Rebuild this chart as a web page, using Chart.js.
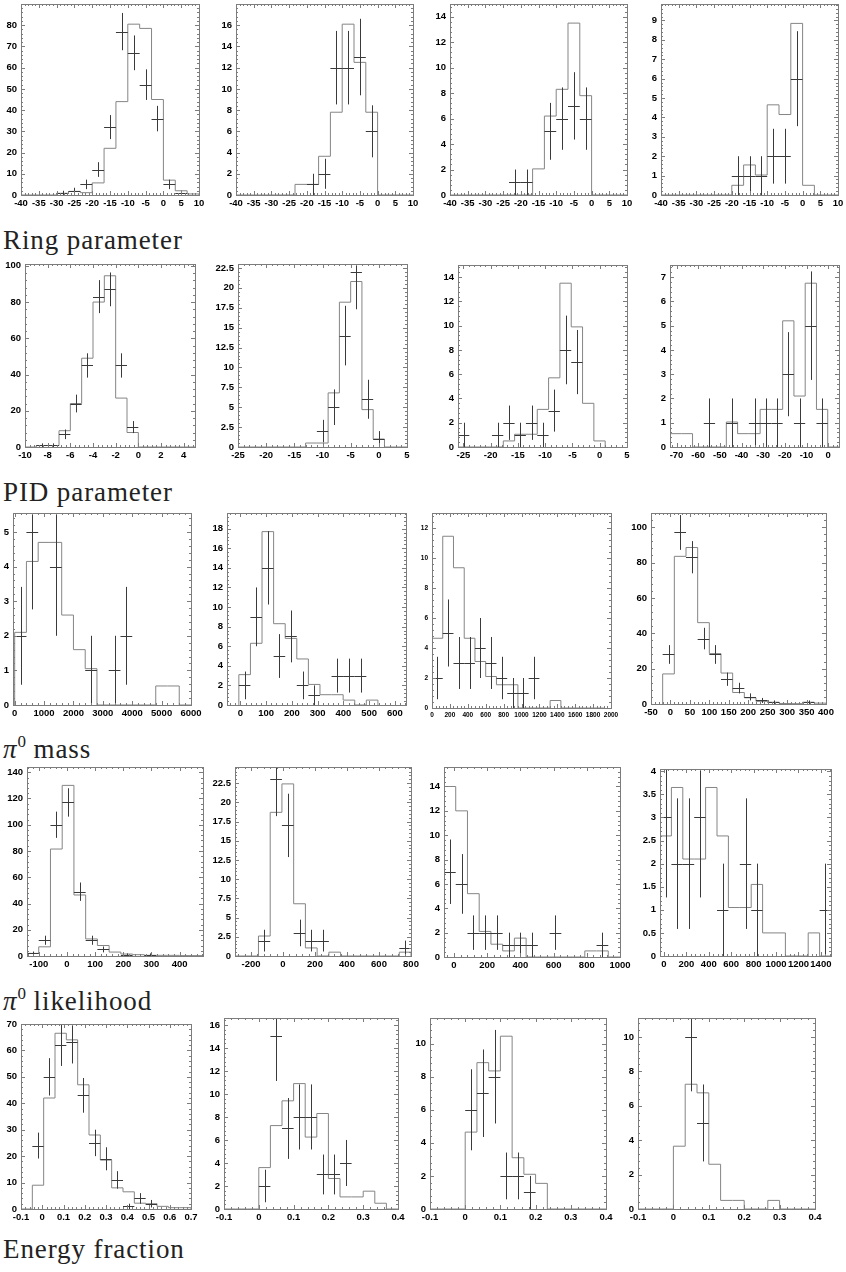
<!DOCTYPE html>
<html>
<head>
<meta charset="utf-8">
<script src="https://cdn.jsdelivr.net/npm/chart.js@4.4.1/dist/chart.umd.min.js"></script>
<style>
html,body{margin:0;padding:0;background:#fff;}
#page{position:relative;width:846px;height:1272px;overflow:hidden;background:#fff;}
.cap{position:absolute;left:3px;font-family:"Liberation Serif","DejaVu Serif",serif;font-size:27px;letter-spacing:0.9px;color:#222;white-space:nowrap;line-height:27px;}
.cap .sp{font-size:17px;position:relative;top:-11px;letter-spacing:0;}
canvas{position:absolute;}
</style>
</head>
<body>
<div id="page">
  <div class="cap" style="top:227px">Ring parameter</div>
  <div class="cap" style="top:479px">PID parameter</div>
  <div class="cap" style="top:736px"><i>π</i><span class="sp">0</span> mass</div>
  <div class="cap" style="top:988px"><i>π</i><span class="sp">0</span> likelihood</div>
  <div class="cap" style="top:1236px">Energy fraction</div>
</div>
<script>
// ---------------- data ----------------
// Row 1
const r1Xticks = [-40,-35,-30,-25,-20,-15,-10,-5,0,5,10];
const r1Bins = [-40, 10/3];
const r1c1Yticks = [0,10,20,30,40,50,60,70,80];
const r1c1Mc   = [0,0,0,0.8,1.7,1.1,5.7,22,44,80.5,78.5,45,7,2,0.5];
const r1c1Data = [null,null,null,1,2,5,12,32,77,67,52,36,5,1,null];
const r1c2Yticks = [0,2,4,6,8,10,12,14,16];
const r1c2Mc   = [0,0,0,0,0,1,1,3.65,7.8,16.1,12.5,7.8,0,0,0];
const r1c2Data = [null,null,null,null,null,null,1,2,12,12,13,6,null,null,null];
const r1c3Yticks = [0,2,4,6,8,10,12,14];
const r1c3Mc   = [0,0,0,0,0,0,0,2.05,6.2,8.3,13.5,7.8,0,0,0];
const r1c3Data = [null,null,null,null,null,1,1,null,5,6,7,6,null,null,null];
const r1c4Yticks = [0,1,2,3,4,5,6,7,8,9];
const r1c4Mc   = [0,0,0,0,0,0,0.5,1.55,1.03,4.65,4.15,8.85,0.5,0,0];
const r1c4Data = [null,null,null,null,null,null,1,1,1,2,2,6,null,null,null];

// Row 2
const r2c1Xticks = [-10,-8,-6,-4,-2,0,2,4];
const r2c1Bins = [-10, 1];
const r2c1Yticks = [0,20,40,60,80,100];
const r2c1Mc   = [0,0.8,0.8,9,24,49,80,94.5,27,8,0,0,0,0,0];
const r2c1Data = [null,1,1,7,24,45,83,87,45,11,null,null,null,null,null];
const r2c2Xticks = [-25,-20,-15,-10,-5,0,5];
const r2c2Bins = [-25, 2];
const r2c2Yticks = [0,2.5,5,7.5,10,12.5,15,17.5,20,22.5];
const r2c2Mc   = [0,0,0,0,0,0,0.5,0.5,6.8,18.2,20.8,4.7,1,0,0];
const r2c2Data = [null,null,null,null,null,null,null,2,5,14,22,6,1,null,null];
const r2c3Xticks = [-25,-20,-15,-10,-5,0,5];
const r2c3Bins = [-26, 27/13];
const r2c3Yticks = [0,2,4,6,8,10,12,14];
const r2c3Mc   = [0,0,0,0,0.5,1.05,1.05,3.1,5.7,13.5,9.9,3.6,0.5];
const r2c3Data = [1,null,null,1,2,1,2,1,3,8,7,null,null];
const r2c4Xticks = [-70,-60,-50,-40,-30,-20,-10,0];
const r2c4Bins = [-73, 5.2];
const r2c4Yticks = [0,1,2,3,4,5,6,7];
const r2c4Mc   = [0.55,0.55,0,0,0,1.03,0.55,0.55,1.55,1.55,5.2,2.1,6.75,1.55,0];
const r2c4Data = [null,null,null,1,null,1,null,1,1,1,3,1,5,1,null];

// Row 3
const r3c1Xticks = [0,1000,2000,3000,4000,5000,6000];
const r3c1Bins = [0, 400];
const r3c1Yticks = [0,1,2,3,4,5];
const r3c1Mc   = [2.1,4.15,4.7,4.7,2.6,1.6,1.05,0,0,0,0,0,0.55,0.55,0];
const r3c1Data = [2,5,null,4,null,null,1,null,1,2,null,null,null,null,null];
const r3c2Xticks = [0,100,200,300,400,500,600];
const r3c2Bins = [-6, 45];
const r3c2Yticks = [0,2,4,6,8,10,12,14,16,18];
const r3c2Mc   = [3.1,6.3,17.7,8.3,6.8,4.7,2.1,1.05,1.05,0.5,0,0.5];
const r3c2Data = [2,9,14,5,7,2,1,null,3,3,3,null];
const r3c3Xticks = [0,200,400,600,800,1000,1200,1400,1600,1800,2000];
const r3c3Bins = [0, 120];
const r3c3Yticks = [0,2,4,6,8,10,12];
const r3c3Mc   = [4.65,11.45,9.35,4.65,3.1,2.1,1.55,1.55,0,0,0,0.5,0,0,0,0];
const r3c3Data = [2,5,3,3,4,3,2,1,1,2,null,null,null,null,null,null];
const r3c4Xticks = [-50,0,50,100,150,200,250,300,350,400];
const r3c4Bins = [-20, 30];
const r3c4Yticks = [0,20,40,60,80,100];
const r3c4Mc   = [17,83.5,88.5,46,28.5,17.5,6.5,3.5,1.5,1,0.3,0.2,1,0.5];
const r3c4Data = [28,97,83,37,28,14,9,4,2,1,null,null,1,null];

// Row 4
const r4c1Xticks = [-100,0,100,200,300,400];
const r4c1Bins = [-142, 625/15];
const r4c1Yticks = [0,20,40,60,80,100,120,140];
const r4c1Mc   = [2,7,81.5,130,46.5,13,8,3,1.5,1,0.5,0.5,0.5,0.3,0.3];
const r4c1Data = [2,12,100,117,49,12,5,null,1,null,1,null,null,null,null];
const r4c2Xticks = [-200,0,200,400,600,800];
const r4c2Bins = [-300, 1100/15];
const r4c2Yticks = [0,2.5,5,7.5,10,12.5,15,17.5,20,22.5];
const r4c2Mc   = [0,0,2.6,18.7,22.4,6.8,1.05,0,0.5,0,0,0,0,0,0.5];
const r4c2Data = [null,null,2,23,17,3,2,2,null,null,null,null,null,null,1];
const r4c3Xticks = [0,200,400,600,800,1000];
const r4c3Bins = [-60, 1060/15];
const r4c3Yticks = [0,2,4,6,8,10,12,14];
const r4c3Mc   = [14,12,5.2,2.1,1.05,0.5,1.55,0,0,0,0,0,0.5,0.5,0];
const r4c3Data = [7,6,2,2,2,1,1,1,null,2,null,null,null,1,null];
const r4c4Xticks = [0,200,400,600,800,1000,1200,1400];
const r4c4Bins = [-35, 1525/15];
const r4c4Yticks = [0,0.5,1,1.5,2,2.5,3,3.5,4];
const r4c4Mc   = [2.6,3.65,2.1,2.1,3.65,2.6,1.05,1.05,1.55,0.5,0.5,0,0,0.5,0];
const r4c4Data = [3,2,2,3,null,1,null,2,1,null,null,null,null,null,1];

// Row 5
const r5c1Xticks = [-0.1,0,0.1,0.2,0.3,0.4,0.5,0.6,0.7];
const r5c1Bins = [-0.1, 0.8/15];
const r5c1Yticks = [0,10,20,30,40,50,60,70];
const r5c1Mc   = [0,9,42,66.5,64,47,28,18.5,8,6.5,2.2,2,1,0.5,0.5];
const r5c1Data = [null,24,50,62,63,43,25,19,11,1,4,2,null,null,null];
const r5Xticks = [-0.1,0,0.1,0.2,0.3,0.4];
const r5Bins = [-0.1, 1/30];
const r5c2Yticks = [0,2,4,6,8,10,12,14,16];
const r5c2Mc   = [0,0,0,3.6,7.25,9.4,10.9,6.25,8.3,2.65,1.05,1.05,1.55,0.5,0];
const r5c2Data = [null,null,null,2,15,7,8,8,3,3,4,null,null,null,null];
const r5c3Yticks = [0,2,4,6,8,10];
const r5c3Mc   = [0,0,0,4.65,8.85,8.35,10.45,3.1,2.1,1.55,0,0,0,0,0];
const r5c3Data = [null,null,null,6,7,8,2,2,1,null,null,null,null,null,null];
const r5c4Yticks = [0,2,4,6,8,10];
const r5c4Mc   = [0,0,0,3.65,7.25,6.75,2.6,0.5,0.5,0,0,0.5,0,0,0];
const r5c4Data = [null,null,null,null,10,5,null,null,null,null,null,null,null,null,null];

// ---------------- layout (frame = left, top, right, bottom in page px) ----------------
const panels = [
  {frame:[21,4,199,195],   x:[-40,10],  y:[0,90],   xt:r1Xticks, yt:r1c1Yticks, bins:r1Bins, mc:r1c1Mc, data:r1c1Data},
  {frame:[236,4,413,195],  x:[-40,10],  y:[0,18],   xt:r1Xticks, yt:r1c2Yticks, bins:r1Bins, mc:r1c2Mc, data:r1c2Data},
  {frame:[450,4,627,195],  x:[-40,10],  y:[0,15],   xt:r1Xticks, yt:r1c3Yticks, bins:r1Bins, mc:r1c3Mc, data:r1c3Data},
  {frame:[661,4,838,195],  x:[-40,10],  y:[0,9.85], xt:r1Xticks, yt:r1c4Yticks, bins:r1Bins, mc:r1c4Mc, data:r1c4Data},

  {frame:[25,264,195,447], x:[-10,5],   y:[0,101],  xt:r2c1Xticks, yt:r2c1Yticks, bins:r2c1Bins, mc:r2c1Mc, data:r2c1Data},
  {frame:[238,264,407,447],x:[-25,5],   y:[0,23],   xt:r2c2Xticks, yt:r2c2Yticks, bins:r2c2Bins, mc:r2c2Mc, data:r2c2Data},
  {frame:[458,265,627,447],x:[-26,5],   y:[0,15],   xt:r2c3Xticks, yt:r2c3Yticks, bins:r2c3Bins, mc:r2c3Mc, data:r2c3Data},
  {frame:[670,265,839,447],x:[-73,5],   y:[0,7.5],  xt:r2c4Xticks, yt:r2c4Yticks, bins:r2c4Bins, mc:r2c4Mc, data:r2c4Data},

  {frame:[13,513,191,705], x:[-57,6000],y:[0,5.55], xt:r3c1Xticks, yt:r3c1Yticks, bins:r3c1Bins, mc:r3c1Mc, data:r3c1Data},
  {frame:[227,513,406,705],x:[-52,643], y:[0,19.6], xt:r3c2Xticks, yt:r3c2Yticks, bins:r3c2Bins, mc:r3c2Mc, data:r3c2Data},
  {frame:[432,513,611,708],x:[0,2000],  y:[0,13],   xt:r3c3Xticks, yt:r3c3Yticks, bins:r3c3Bins, mc:r3c3Mc, data:r3c3Data, small:true},
  {frame:[651,513,826,704],x:[-50,400], y:[0,108],  xt:r3c4Xticks, yt:r3c4Yticks, bins:r3c4Bins, mc:r3c4Mc, data:r3c4Data},

  {frame:[27,767,203,956], x:[-142,483],y:[0,144],  xt:r4c1Xticks, yt:r4c1Yticks, bins:r4c1Bins, mc:r4c1Mc, data:r4c1Data},
  {frame:[235,767,411,956],x:[-300,800],y:[0,24.6], xt:r4c2Xticks, yt:r4c2Yticks, bins:r4c2Bins, mc:r4c2Mc, data:r4c2Data},
  {frame:[444,767,620,957],x:[-60,1000],y:[0,15.6], xt:r4c3Xticks, yt:r4c3Yticks, bins:r4c3Bins, mc:r4c3Mc, data:r4c3Data},
  {frame:[660,769,831,956],x:[-35,1490],y:[0,4.05], xt:r4c4Xticks, yt:r4c4Yticks, bins:r4c4Bins, mc:r4c4Mc, data:r4c4Data},

  {frame:[21,1024,191,1209], x:[-0.1,0.7], y:[0,70],    xt:r5c1Xticks, yt:r5c1Yticks, bins:r5c1Bins, mc:r5c1Mc, data:r5c1Data},
  {frame:[224,1018,398,1209],x:[-0.1,0.4], y:[0,16.6],  xt:r5Xticks,   yt:r5c2Yticks, bins:r5Bins,   mc:r5c2Mc, data:r5c2Data},
  {frame:[430,1018,606,1209],x:[-0.1,0.4], y:[0,11.55], xt:r5Xticks,   yt:r5c3Yticks, bins:r5Bins,   mc:r5c3Mc, data:r5c3Data},
  {frame:[638,1018,815,1209],x:[-0.1,0.4], y:[0,11.1],  xt:r5Xticks,   yt:r5c4Yticks, bins:r5Bins,   mc:r5c4Mc, data:r5c4Data}
];

// ---------------- drawing ----------------
const FRAME_COLOR = '#7c7c7c';
const MC_COLOR = '#858585';
const DATA_COLOR = '#3a3a3a';
const fmt = v => String(Math.round(v * 1e6) / 1e6);

function histPoints(lo, w, vals) {
  const pts = [{x: lo, y: 0}];
  vals.forEach((v, i) => pts.push({x: lo + i * w, y: v}));
  pts.push({x: lo + vals.length * w, y: 0});
  return pts;
}
function dataPoints(lo, w, vals) {
  const pts = [];
  vals.forEach((v, i) => { if (v !== null) pts.push({x: lo + (i + 0.5) * w, y: v}); });
  return pts;
}
function tickSet(major, min, max) {
  const d = (major[1] - major[0]) / 5, out = [];
  for (let k = 0; major[0] - k * d >= min - 1e-9; k++) out.push({v: major[0] - k * d, major: k % 5 === 0});
  for (let k = 1; major[0] + k * d <= max + 1e-9; k++) out.push({v: major[0] + k * d, major: k % 5 === 0});
  return out;
}

const histPlugin = {
  id: 'histPlugin',
  afterDatasetsDraw(chart) {
    const {ctx, chartArea: a, scales: {x, y}} = chart;
    const p = chart.options.plugins.histPlugin.panel;
    const halfW = p.bins[1] / 2;
    ctx.save();
    ctx.beginPath();
    ctx.rect(a.left, a.top, a.right - a.left + 1, a.bottom - a.top + 1);
    ctx.clip();
    ctx.strokeStyle = DATA_COLOR;
    ctx.lineWidth = 1;
    ctx.beginPath();
    chart.data.datasets[1].data.forEach(pt => {
      const e = Math.sqrt(pt.y);
      const px = Math.round(x.getPixelForValue(pt.x)) + 0.5;
      const py = Math.round(y.getPixelForValue(pt.y)) + 0.5;
      ctx.moveTo(x.getPixelForValue(pt.x - halfW), py);
      ctx.lineTo(x.getPixelForValue(pt.x + halfW), py);
      ctx.moveTo(px, y.getPixelForValue(Math.max(pt.y - e, 0)));
      ctx.lineTo(px, y.getPixelForValue(pt.y + e));
    });
    ctx.stroke();
    ctx.restore();

    // frame and ticks
    ctx.save();
    ctx.strokeStyle = FRAME_COLOR;
    ctx.lineWidth = 1;
    ctx.strokeRect(a.left + 0.5, a.top + 0.5, a.right - a.left, a.bottom - a.top);
    ctx.beginPath();
    tickSet(p.xt, p.x[0], p.x[1]).forEach(t => {
      const px = Math.round(x.getPixelForValue(t.v)) + 0.5;
      const len = t.major ? 4 : 2;
      ctx.moveTo(px, a.bottom); ctx.lineTo(px, a.bottom - len);
      ctx.moveTo(px, a.top); ctx.lineTo(px, a.top + len);
    });
    tickSet(p.yt, p.y[0], p.y[1]).forEach(t => {
      const py = Math.round(y.getPixelForValue(t.v)) + 0.5;
      const len = t.major ? 4 : 2;
      ctx.moveTo(a.left, py); ctx.lineTo(a.left + len, py);
      ctx.moveTo(a.right, py); ctx.lineTo(a.right - len, py);
    });
    ctx.stroke();
    ctx.restore();
  }
};

const page = document.getElementById('page');
const L = 32, T = 8, R = 18, B = 18;

panels.forEach(p => {
  const fw = p.frame[2] - p.frame[0], fh = p.frame[3] - p.frame[1];
  const cv = document.createElement('canvas');
  cv.width = fw + L + R;
  cv.height = fh + T + B;
  cv.style.left = (p.frame[0] - L) + 'px';
  cv.style.top = (p.frame[1] - T) + 'px';
  cv.style.width = cv.width + 'px';
  cv.style.height = cv.height + 'px';
  page.appendChild(cv);
  const fontSize = p.small ? 6.5 : 9.5;
  const font = {family: "'Liberation Sans', Arial, sans-serif", size: fontSize, weight: 'bold'};
  new Chart(cv, {
    type: 'line',
    data: {
      datasets: [
        {data: histPoints(p.bins[0], p.bins[1], p.mc), stepped: 'before', borderColor: MC_COLOR,
         borderWidth: 1, pointRadius: 0, fill: false, tension: 0},
        {data: dataPoints(p.bins[0], p.bins[1], p.data), showLine: false, pointRadius: 0,
         borderColor: DATA_COLOR}
      ]
    },
    options: {
      responsive: false,
      animation: false,
      events: [],
      devicePixelRatio: 1,
      layout: {padding: {top: T, right: R, left: 0, bottom: 0}},
      plugins: {legend: {display: false}, tooltip: {enabled: false}, histPlugin: {panel: p}},
      scales: {
        x: {
          type: 'linear', position: 'bottom', min: p.x[0], max: p.x[1], bounds: 'data',
          grid: {display: false, drawTicks: false}, border: {display: false},
          ticks: {autoSkip: false, maxRotation: 0, minRotation: 0, padding: 3, color: '#000', font, callback: fmt},
          afterBuildTicks: s => { s.ticks = p.xt.map(v => ({value: v})); },
          afterFit: s => { s.height = B; s.paddingLeft = 0; s.paddingRight = 0; }
        },
        y: {
          type: 'linear', position: 'left', min: p.y[0], max: p.y[1], bounds: 'data',
          grid: {display: false, drawTicks: false}, border: {display: false},
          ticks: {autoSkip: false, padding: 4, color: '#000', font, callback: fmt},
          afterBuildTicks: s => { s.ticks = p.yt.map(v => ({value: v})); },
          afterFit: s => { s.width = L; s.paddingTop = 0; s.paddingBottom = 0; }
        }
      }
    },
    plugins: [histPlugin]
  });
});
</script>
</body>
</html>
